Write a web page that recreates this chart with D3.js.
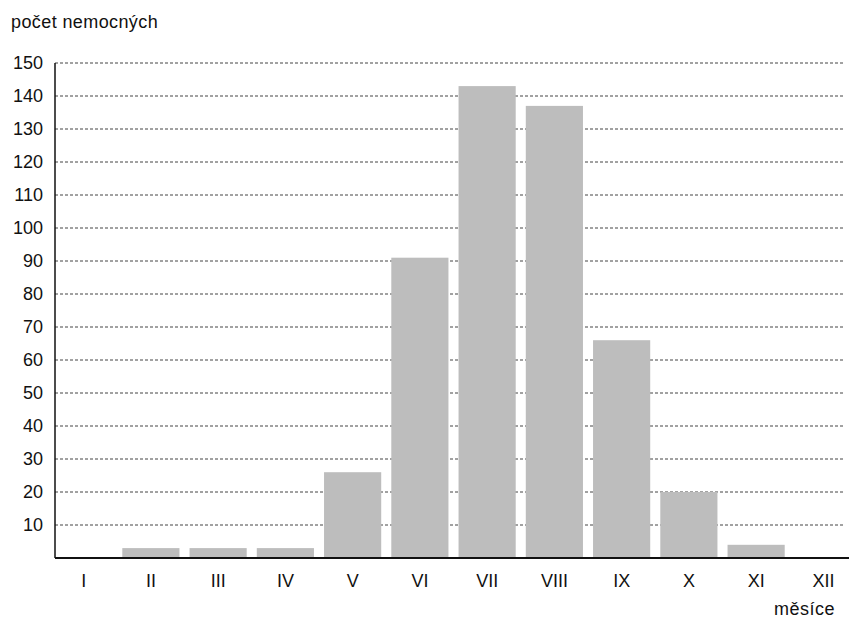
<!DOCTYPE html>
<html><head><meta charset="utf-8">
<script src="https://cdn.jsdelivr.net/npm/d3@7"></script>
<style>body{margin:0;background:#fff}svg{display:block}text{font-family:"Liberation Sans",Arial,Helvetica,sans-serif;fill:#111}</style>
</head><body>
<script>
const months = ["I","II","III","IV","V","VI","VII","VIII","IX","X","XI","XII"];
const counts = [0,3,3,3,26,91,143,137,66,20,4,0];
const yTicks = [10,20,30,40,50,60,70,80,90,100,110,120,130,140,150];
const yTitle = "počet nemocných";
const xTitle = "měsíce";

const W = 849, H = 620;
const svg = d3.select("body").append("svg").attr("width", W).attr("height", H);
const x = d3.scaleBand().domain(months).range([50, 857]).paddingInner(0.15).paddingOuter(0.075);
const y = d3.scaleLinear().domain([0,150]).range([558, 63]);
const x0 = 55, gridEnd = 843;

// gridlines
svg.append("g").selectAll("line").data(yTicks).join("line")
  .attr("x1", x0).attr("x2", gridEnd)
  .attr("y1", d => y(d)).attr("y2", d => y(d))
  .attr("stroke", "#444").attr("stroke-width", 1).attr("stroke-dasharray", "3,2");

// bars
svg.append("g").selectAll("rect").data(months).join("rect")
  .attr("x", d => x(d)).attr("width", x.bandwidth())
  .attr("y", (d,i) => y(counts[i])).attr("height", (d,i) => y(0) - y(counts[i]))
  .attr("fill", "#bdbdbd");

// y axis
const yAxis = d3.axisLeft(y).tickValues(yTicks).tickSize(0).tickPadding(12);
const gy = svg.append("g").attr("transform", `translate(${x0},0)`).call(yAxis);
gy.select(".domain").attr("stroke", "#111").attr("stroke-width", 1.5).attr("d", `M0,${y(150)}V${y(0)}`);
gy.selectAll("text").attr("font-size", 18).attr("fill", "#111").attr("font-family", "Liberation Sans, Arial, sans-serif");

// x axis
const xAxis = d3.axisBottom(x).tickSize(0).tickPadding(16);
const gx = svg.append("g").attr("transform", `translate(0,${y(0)})`).call(xAxis);
gx.select(".domain").attr("stroke", "#111").attr("stroke-width", 1.8).attr("d", `M${x0},0H849`);
gx.selectAll("text").attr("font-size", 18).attr("fill", "#111").attr("font-family", "Liberation Sans, Arial, sans-serif");

svg.append("text").attr("x", 11).attr("y", 28).attr("font-size", 18).attr("letter-spacing", 0.4).text(yTitle);
svg.append("text").attr("x", 835).attr("y", 615).attr("text-anchor", "end").attr("font-size", 18).attr("letter-spacing", 0.5).text(xTitle);
</script>
</body></html>
